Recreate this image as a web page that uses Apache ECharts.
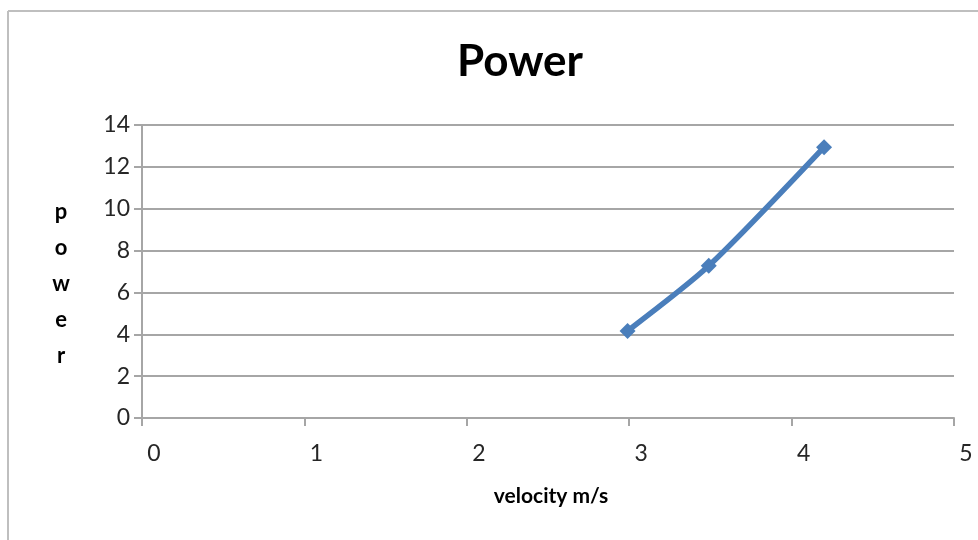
<!DOCTYPE html>
<html>
<head>
<meta charset="utf-8">
<script src="https://cdn.jsdelivr.net/npm/echarts@6/dist/echarts.min.js"></script>
<style>
html,body{margin:0;padding:0;background:#fff;}
#chart{width:978px;height:540px;}
</style>
</head>
<body>
<div id="chart"></div>
<script>
var velocity = [2.99, 3.49, 4.20];
var power = [4.16, 7.27, 12.94];
var xTicks = [0, 1, 2, 3, 4, 5];
var yTicks = [0, 2, 4, 6, 8, 10, 12, 14];
var yAxisTitle = 'power';

var points = velocity.map(function (v, i) { return [v, power[i]]; });
var FONT = 'Lato, "Open Sans", "Liberation Sans", sans-serif';

var chart = echarts.init(document.getElementById('chart'));
chart.setOption({
  animation: false,
  backgroundColor: '#ffffff',
  title: {
    text: 'Power',
    left: 515,
    top: 35,
    textAlign: 'center',
    textStyle: { fontFamily: FONT, fontSize: 44, fontWeight: 'bold', color: '#000' }
  },
  grid: { left: 142, right: 24, top: 125, bottom: 122, containLabel: false },
  xAxis: {
    type: 'value',
    min: xTicks[0],
    max: xTicks[xTicks.length - 1],
    interval: 1,
    name: 'velocity m/s',
    nameLocation: 'middle',
    nameGap: 68,
    nameTextStyle: { fontFamily: FONT, fontSize: 21, fontWeight: 'bold', color: '#000', padding: [0, 0, 0, 6] },
    axisLine: { show: true, onZero: false, lineStyle: { color: '#a6a6a6', width: 2 } },
    axisTick: { show: true, length: 8, lineStyle: { color: '#a6a6a6', width: 2 } },
    axisLabel: { margin: 24, fontFamily: FONT, fontSize: 23, color: '#262626', padding: [0, 0, 0, 24] },
    splitLine: { show: false }
  },
  yAxis: {
    type: 'value',
    min: yTicks[0],
    max: yTicks[yTicks.length - 1],
    interval: 2,
    axisLine: { show: true, lineStyle: { color: '#a6a6a6', width: 2 } },
    axisTick: { show: true, length: 8, lineStyle: { color: '#a6a6a6', width: 2 } },
    axisLabel: { margin: 12, fontFamily: FONT, fontSize: 23, color: '#262626' },
    splitLine: { show: true, lineStyle: { color: '#a6a6a6', width: 2 } }
  },
  graphic: [
    { type: 'line', shape: { x1: 8, y1: 11, x2: 978, y2: 11 }, style: { stroke: '#bfbfbf', lineWidth: 2 } },
    { type: 'line', shape: { x1: 8, y1: 11, x2: 8, y2: 540 }, style: { stroke: '#bfbfbf', lineWidth: 2 } },
    {
      type: 'text', x: 61, y: 284,
      style: {
        text: yAxisTitle.split('').join('\n'),
        font: 'bold 22px ' + FONT,
        fill: '#000',
        lineHeight: 36,
        align: 'center',
        verticalAlign: 'middle'
      }
    }
  ],
  series: [{
    type: 'line',
    data: points,
    smooth: 0.25,
    symbol: 'diamond',
    symbolSize: 16,
    lineStyle: { color: '#4a7ebb', width: 5.5 },
    itemStyle: { color: '#4a7ebb' }
  }]
});
</script>
</body>
</html>
